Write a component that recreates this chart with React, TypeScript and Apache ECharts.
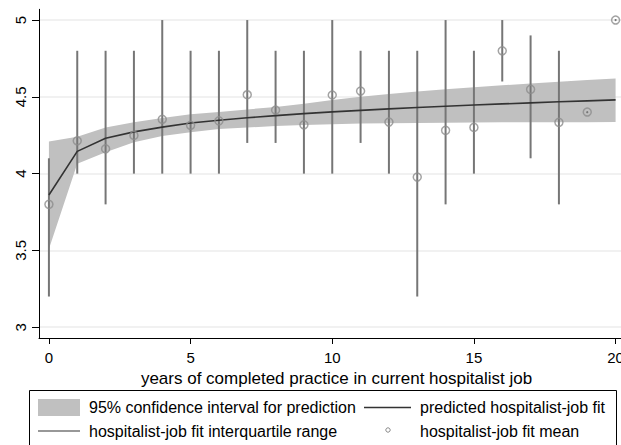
import React, { useEffect, useRef } from "react";
import * as echarts from "echarts";

const years = [0, 1, 2, 3, 4, 5, 6, 7, 8, 9, 10, 11, 12, 13, 14, 15, 16, 17, 18, 19, 20];
const fitValues = [3.861, 4.145, 4.23, 4.272, 4.303, 4.33, 4.348, 4.364, 4.378, 4.391, 4.402, 4.412, 4.422, 4.431, 4.439, 4.447, 4.454, 4.461, 4.468, 4.474, 4.48];
const ciLower = [3.51, 4.065, 4.14, 4.205, 4.245, 4.27, 4.29, 4.3, 4.31, 4.316, 4.322, 4.326, 4.328, 4.33, 4.332, 4.333, 4.334, 4.335, 4.335, 4.335, 4.336];
const ciUpper = [4.21, 4.24, 4.3, 4.335, 4.362, 4.386, 4.402, 4.418, 4.434, 4.455, 4.48, 4.5, 4.518, 4.535, 4.549, 4.562, 4.575, 4.587, 4.598, 4.609, 4.62];
const iqrLow = [3.2, 4.0, 3.8, 4.0, 4.0, 4.0, 4.0, 4.2, 4.2, 4.0, 4.0, 4.2, 4.0, 3.2, 3.8, 4.0, 4.6, 4.1, 3.8, 4.4, 5.0];
const iqrHigh = [4.1, 4.8, 4.8, 4.8, 5.0, 4.8, 4.8, 5.0, 4.8, 4.8, 5.0, 4.8, 4.8, 4.8, 5.0, 4.8, 5.0, 4.9, 4.8, 4.4, 5.0];
const meanValues = [3.8, 4.214, 4.162, 4.249, 4.354, 4.315, 4.344, 4.514, 4.414, 4.318, 4.512, 4.538, 4.336, 3.978, 4.282, 4.301, 4.8, 4.549, 4.334, 4.401, 5.0];
const yTickValues = [3, 3.5, 4, 4.5, 5];
const xTickValues = [0, 5, 10, 15, 20];
const xAxisTitle = "years of completed practice in current hospitalist job";
const legendLabels = [
  "95% confidence interval for prediction",
  "predicted hospitalist-job fit",
  "hospitalist-job fit interquartile range",
  "hospitalist-job fit mean",
];

const FONT = '"Liberation Sans", Arial, Helvetica, sans-serif';
const BAND = "#c0c0c0";
const FIT = "#333333";
const IQR = "#767676";
const MEAN = "#8c8c8c";

export default function App() {
  const ref = useRef<HTMLDivElement>(null);
  useEffect(() => {
    if (!ref.current) return;
    const chart = echarts.init(ref.current, undefined, { renderer: "svg" });
    const legendText = (x: number, y: number, text: string) => ({
      type: "text",
      x,
      y,
      style: { text, font: `16px ${FONT}`, fill: "#000", textVerticalAlign: "middle", textAlign: "left" },
    });
    chart.setOption({
      animation: false,
      backgroundColor: "#fff",
      grid: { left: 39, width: 595, top: 9.3, bottom: 107, containLabel: false, outerBoundsMode: "none" },
      xAxis: {
        type: "value",
        min: -0.35,
        max: 20.65,
        name: xAxisTitle,
        nameLocation: "middle",
        nameGap: 21,
        nameTextStyle: { fontSize: 17, fontFamily: FONT, color: "#000" },
        axisLine: { show: true, onZero: false, lineStyle: { color: "#000", width: 1 } },
        axisTick: { show: true, length: 6, customValues: xTickValues, lineStyle: { color: "#000" } },
        axisLabel: { customValues: xTickValues, fontSize: 15, fontFamily: FONT, color: "#000", margin: 12 },
        splitLine: { show: false },
      },
      yAxis: {
        type: "value",
        min: 2.93,
        max: 5.07,
        axisLine: { show: true, onZero: false, lineStyle: { color: "#000", width: 1 } },
        axisTick: { show: true, length: 7, customValues: yTickValues, lineStyle: { color: "#000" } },
        axisLabel: {
          customValues: yTickValues,
          rotate: 90,
          fontSize: 15,
          fontFamily: FONT,
          color: "#000",
          margin: 11,
          formatter: (v: number) => String(v),
        },
        splitLine: { show: true, lineStyle: { color: "#ececec", width: 1.5 } },
      },
      series: [
        {
          name: legendLabels[0],
          type: "custom",
          data: years.map((x, i) => [x, ciLower[i], ciUpper[i]]),
          encode: { x: 0, y: [1, 2] },
          silent: true,
          z: 1,
          renderItem: (params: any, api: any) => {
            if (params.dataIndex !== 0) return null;
            const upper = years.map((x, i) => api.coord([x, ciUpper[i]]));
            const lower = years.map((x, i) => api.coord([x, ciLower[i]])).reverse();
            return {
              type: "polygon",
              shape: { points: upper.concat(lower) },
              style: { fill: BAND, stroke: "none" },
            };
          },
        },
        {
          name: legendLabels[2],
          type: "custom",
          data: years.map((x, i) => [x, iqrLow[i], iqrHigh[i]]),
          encode: { x: 0, y: [1, 2] },
          z: 2,
          renderItem: (_p: any, api: any) => {
            const x = api.value(0);
            const lo = api.value(1);
            const hi = api.value(2);
            const a = api.coord([x, lo]);
            const b = api.coord([x, hi]);
            if (lo === hi) {
              return { type: "circle", shape: { cx: a[0], cy: a[1], r: 1.1 }, style: { fill: IQR } };
            }
            return {
              type: "line",
              shape: { x1: a[0], y1: a[1], x2: b[0], y2: b[1] },
              style: { stroke: IQR, lineWidth: 2 },
            };
          },
        },
        {
          name: legendLabels[1],
          type: "line",
          data: years.map((x, i) => [x, fitValues[i]]),
          symbol: "none",
          lineStyle: { color: FIT, width: 1.6 },
          z: 3,
        },
        {
          name: legendLabels[3],
          type: "scatter",
          data: years.map((x, i) => [x, meanValues[i]]),
          symbol: "circle",
          symbolSize: 8,
          itemStyle: { color: "rgba(255,255,255,0)", borderColor: MEAN, borderWidth: 1.5 },
          z: 4,
        },
      ],
      graphic: [
        {
          type: "rect",
          shape: { x: 29.5, y: 390.5, width: 587, height: 70 },
          style: { fill: "#fff", stroke: "#000", lineWidth: 1 },
        },
        { type: "rect", shape: { x: 38, y: 399, width: 42, height: 17 }, style: { fill: BAND } },
        legendText(89, 407.5, legendLabels[0]),
        { type: "line", shape: { x1: 364, y1: 407.5, x2: 411, y2: 407.5 }, style: { stroke: FIT, lineWidth: 1.5 } },
        legendText(420, 407.5, legendLabels[1]),
        { type: "line", shape: { x1: 38, y1: 431, x2: 80, y2: 431 }, style: { stroke: IQR, lineWidth: 1.5 } },
        legendText(89, 431, legendLabels[2]),
        { type: "circle", shape: { cx: 388, cy: 430, r: 2.2 }, style: { fill: "none", stroke: MEAN, lineWidth: 1 } },
        legendText(420, 431, legendLabels[3]),
      ],
    });
    return () => chart.dispose();
  }, []);
  return <div ref={ref} style={{ position: "fixed", left: 0, top: 0, width: 621, height: 445 }} />;
}
